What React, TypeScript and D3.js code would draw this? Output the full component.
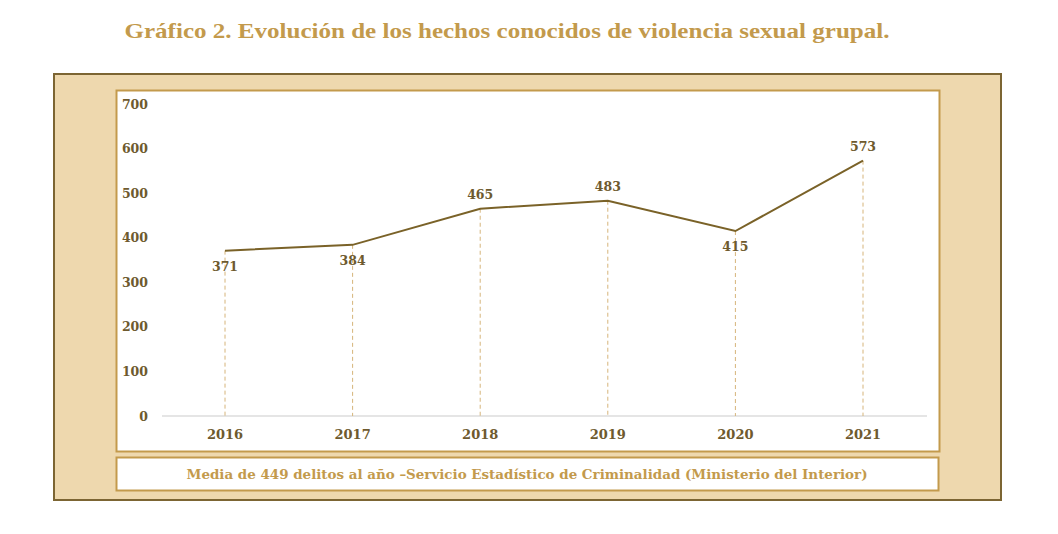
import React from "react";
import * as d3 from "d3";

const years = ["2016", "2017", "2018", "2019", "2020", "2021"];
const values = [371, 384, 465, 483, 415, 573];
const labelPos = ["below", "below", "above", "above", "below", "above"];
const yTicks = [0, 100, 200, 300, 400, 500, 600, 700];
const title = "Gráfico 2. Evolución de los hechos conocidos de violencia sexual grupal.";
const footnote = "Media de 449 delitos al año –Servicio Estadístico de Criminalidad (Ministerio del Interior)";

export default function App() {
  const W = 1058, H = 534;
  const x = d3.scalePoint<string>().domain(years).range([225, 863]);
  const y = d3.scaleLinear().domain([0, 700]).range([416, 104]);
  const line = d3.line<number>().x((_, i) => x(years[i])!).y(d => y(d));
  const dark = "#6e5a2e";
  const gold = "#c39a4c";
  const slab = "'DejaVu Serif', serif";
  return (
    <svg width={W} height={H} style={{ position: "absolute", left: 0, top: 0, background: "#fff" }}>
      <rect x={0} y={0} width={W} height={H} fill="#fff" />
      <text x={507} y={38} textAnchor="middle" fontFamily="'Liberation Serif', serif" fontWeight="bold" fontSize={21} fill={gold} textLength={765} lengthAdjust="spacingAndGlyphs">{title}</text>
      <rect x={54} y={74} width={947} height={426} fill="#eed8ae" stroke="#7c6533" strokeWidth={2} />
      <rect x={116.5} y={90.5} width={823} height={361} fill="#fff" stroke={gold} strokeWidth={2} />
      <rect x={116.5} y={457.5} width={822} height={33} fill="#fff" stroke={gold} strokeWidth={2} />
      <line x1={162} x2={927} y1={y(0)} y2={y(0)} stroke="#dcdcdc" strokeWidth={1.5} />
      {yTicks.map(t => (
        <text key={t} x={148} y={y(t) + 4.5} textAnchor="end" fontFamily={slab} fontWeight="bold" fontSize={12.5} fill={dark}>{t}</text>
      ))}
      {years.map(yr => (
        <text key={yr} x={x(yr)!} y={439} textAnchor="middle" fontFamily={slab} fontWeight="bold" fontSize={13} fill={dark}>{yr}</text>
      ))}
      {values.map((v, i) => (
        <line key={i} x1={x(years[i])!} x2={x(years[i])!} y1={y(v)} y2={y(0)} stroke="#d6b47a" strokeWidth={1} strokeDasharray="4,3" />
      ))}
      <path d={line(values)!} fill="none" stroke="#7a6228" strokeWidth={2} />
      {values.map((v, i) => (
        <text key={"l" + i} x={x(years[i])!} y={labelPos[i] === "above" ? y(v) - 10 : y(v) + 20} textAnchor="middle" fontFamily={slab} fontWeight="bold" fontSize={12.5} fill={dark}>{v}</text>
      ))}
      <text x={527} y={479} textAnchor="middle" fontFamily={slab} fontWeight="bold" fontSize={13.5} fill={gold} textLength={681} lengthAdjust="spacingAndGlyphs">{footnote}</text>
    </svg>
  );
}
